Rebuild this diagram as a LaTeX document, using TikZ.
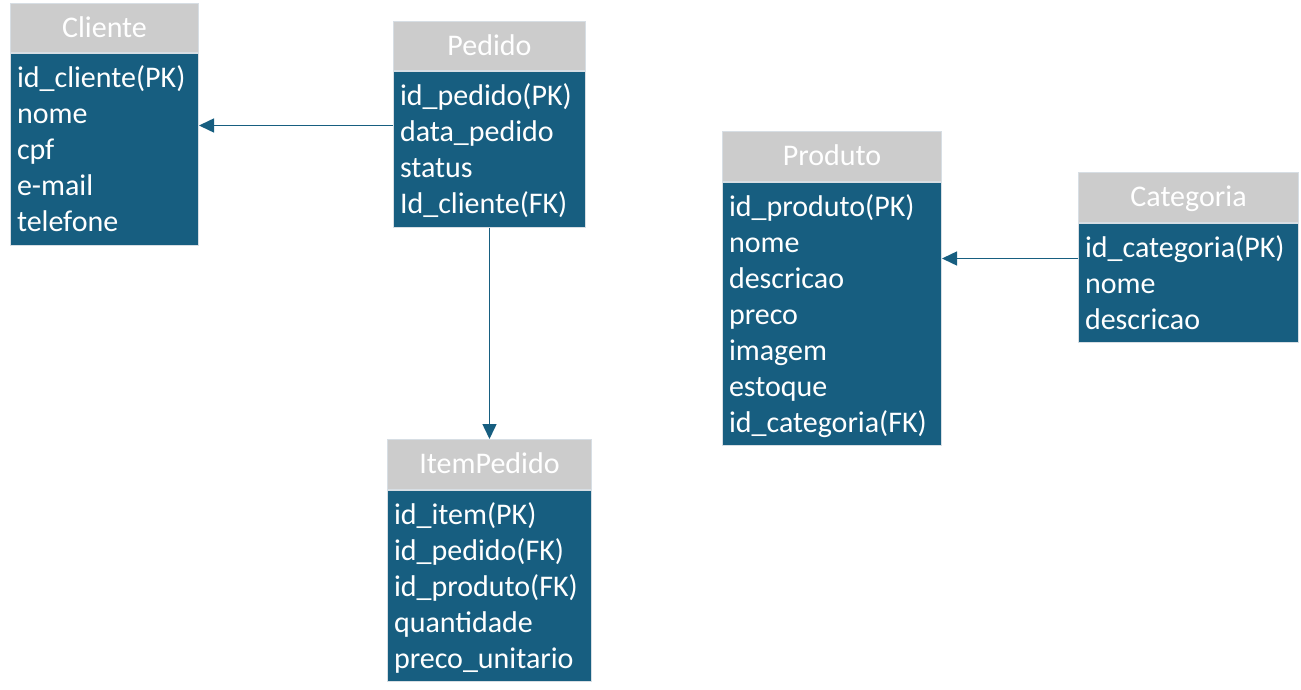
\documentclass[tikz,border=0pt]{standalone}
\usepackage{fontspec}
\setmainfont{Carlito}
\usetikzlibrary{arrows.meta}
\definecolor{tblue}{RGB}{23,94,128}
\definecolor{thead}{RGB}{204,204,204}
\definecolor{tborder}{RGB}{215,222,228}
\begin{document}
\begin{tikzpicture}[x=1pt,y=1pt,
  every node/.style={font=\fontsize{30}{36}\selectfont},
  headbox/.style={rectangle, fill=thead, draw=tborder, line width=1pt, text=white,
    anchor=north west, minimum height=49.5pt, text height=19pt, text depth=0pt, inner xsep=0pt},
  bodybox/.style={rectangle, fill=tblue, draw=tborder, line width=1pt, text=white,
    anchor=north west, align=left, inner xsep=6.5pt, inner ysep=0pt},
  conn/.style={draw=tblue, line width=1.5pt, -{Triangle[length=15pt,width=14pt]}}
]
\useasboundingbox (0,0) rectangle (1301,-690);
\newcommand{\firstl}{\rule{0pt}{34pt}}
\newcommand{\lastl}{\rule[-13pt]{0pt}{13pt}}

% Cliente
\node[headbox, minimum width=188pt] (clienteh) at (10,-3) {Cliente};
\node[bodybox, text width=175pt] (clienteb) at (clienteh.south west)
  {\firstl id\_cliente(PK)\\nome\\cpf\\e-mail\\telefone\lastl};

% Pedido
\node[headbox, minimum width=192pt] (pedidoh) at (393,-21) {Pedido};
\node[bodybox, text width=179pt] (pedidob) at (pedidoh.south west)
  {\firstl id\_pedido(PK)\\data\_pedido\\status\\Id\_cliente(FK)\lastl};

% ItemPedido
\node[headbox, minimum width=204pt] (itemh) at (387,-439) {ItemPedido};
\node[bodybox, text width=191pt] (itemb) at (itemh.south west)
  {\firstl id\_item(PK)\\id\_pedido(FK)\\id\_produto(FK)\\quantidade\\preco\_unitario\lastl};

% Produto
\node[headbox, minimum width=219pt] (produtoh) at (722,-131) {Produto};
\node[bodybox, text width=206pt] (produtob) at (produtoh.south west)
  {\firstl id\_produto(PK)\\nome\\descricao\\preco\\imagem\\estoque\\id\_categoria(FK)\lastl};

% Categoria
\node[headbox, minimum width=220pt] (categoriah) at (1078,-172) {Categoria};
\node[bodybox, text width=207pt] (categoriab) at (categoriah.south west)
  {\firstl id\_categoria(PK)\\nome\\descricao\lastl};

% connectors
\path (pedidob.north west) ++(0,-54) coordinate (p1);
\draw[conn] (p1) -- (p1 -| clienteb.east);
\draw[conn] (pedidob.south) -- (itemh.north);
\path (categoriab.north west) ++(0,-36) coordinate (c1);
\draw[conn] (c1) -- (c1 -| produtob.east);
\end{tikzpicture}
\end{document}
